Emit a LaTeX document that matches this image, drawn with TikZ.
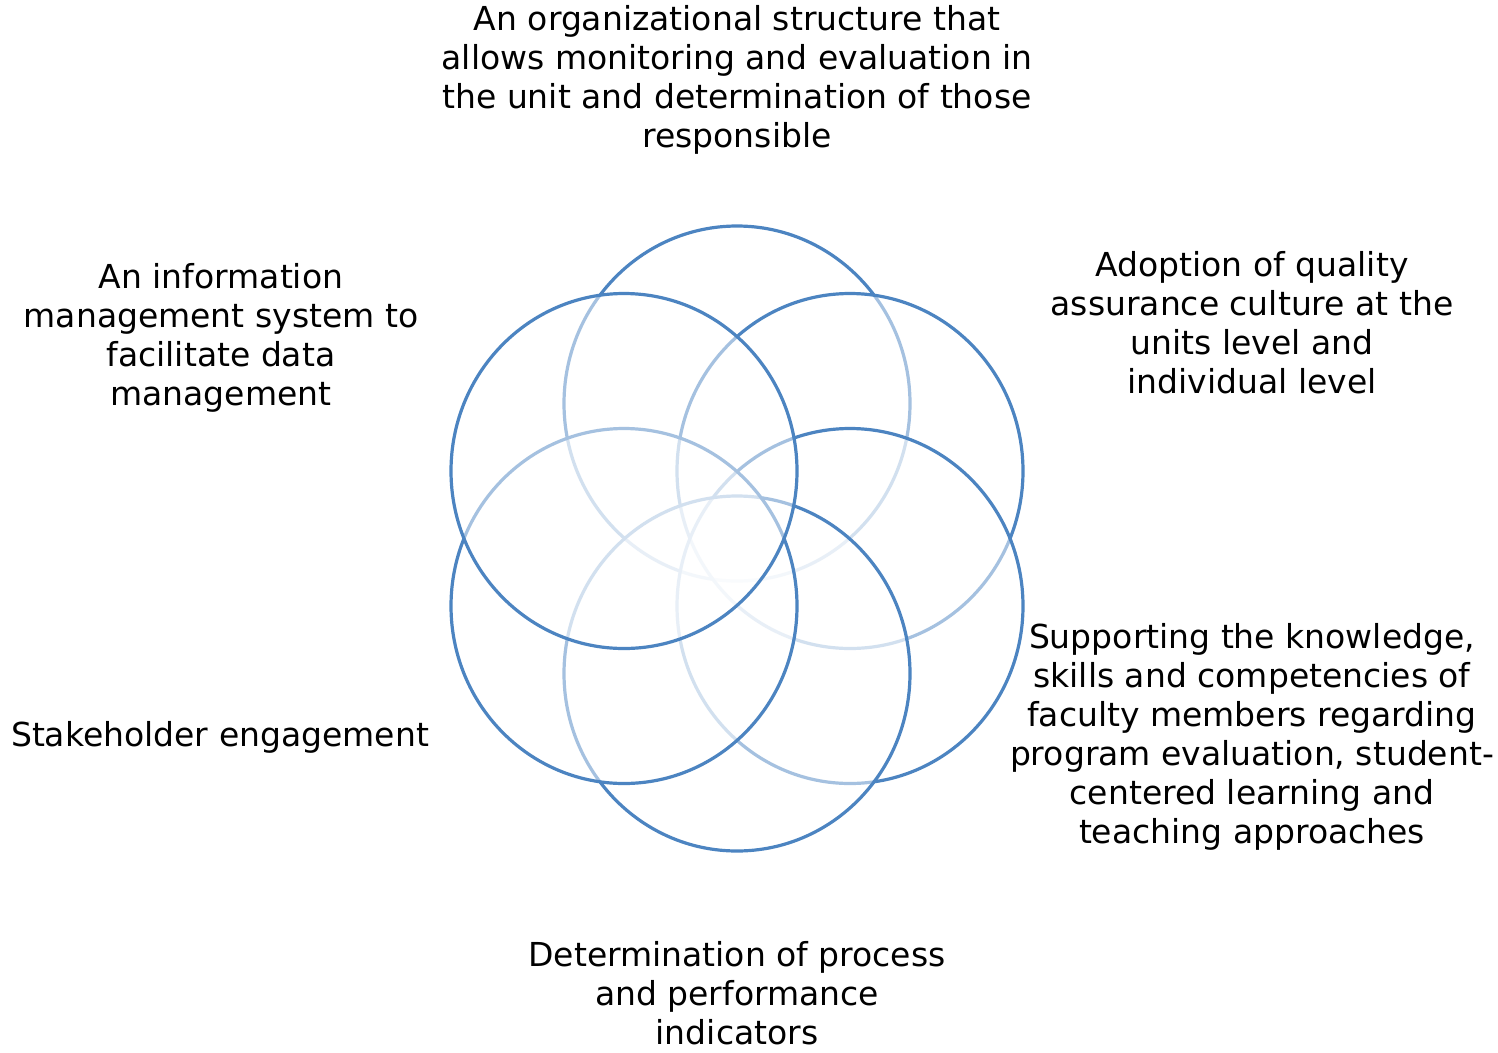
\documentclass[tikz,border=0pt]{standalone}
\usepackage{fontspec}
\usetikzlibrary{shapes.geometric}
\setmainfont{DejaVu Sans}
\begin{document}
\begin{tikzpicture}[x=1pt,y=-1pt,
  petal/.style={ellipse, minimum width=346pt, minimum height=355pt, inner sep=0pt, line width=3.2pt,
    draw={rgb,255:red,76;green,132;blue,193}, fill=white, fill opacity=0.5, draw opacity=1},
  lbl/.style={align=center, text=black, font=\fontsize{33}{39}\selectfont, inner sep=0pt}]
\useasboundingbox (0,0) rectangle (1498,1052);
% circles, drawn back to front
\node[petal] (top) at (737,403.5) {};
\node[petal] (ur)  at (850,471) {};
\node[petal] (lr)  at (850,606) {};
\node[petal] (bot) at (737,673.5) {};
\node[petal] (ll)  at (624,606) {};
\node[petal] (ul)  at (624,471) {};
% labels
\node[lbl] (ttop) at (737,80) {An organizational structure that\\allows monitoring and evaluation in\\the unit and determination of those\\responsible};
\node[lbl] (tul) at (221,338) {An information\\management system to\\facilitate data\\management};
\node[lbl] (tur) at (1252,322.5) {Adoption of quality\\assurance culture at the\\units level and\\individual level};
\node[lbl] (tlr) at (1252,737) {Supporting the knowledge,\\skills and competencies of\\faculty members regarding\\program evaluation, student-\\centered learning and\\teaching approaches};
\node[lbl] (tll) at (220,737) {Stakeholder engagement};
\node[lbl] (tbot) at (737,993.5) {Determination of process\\and performance\\indicators};
\end{tikzpicture}
\end{document}
